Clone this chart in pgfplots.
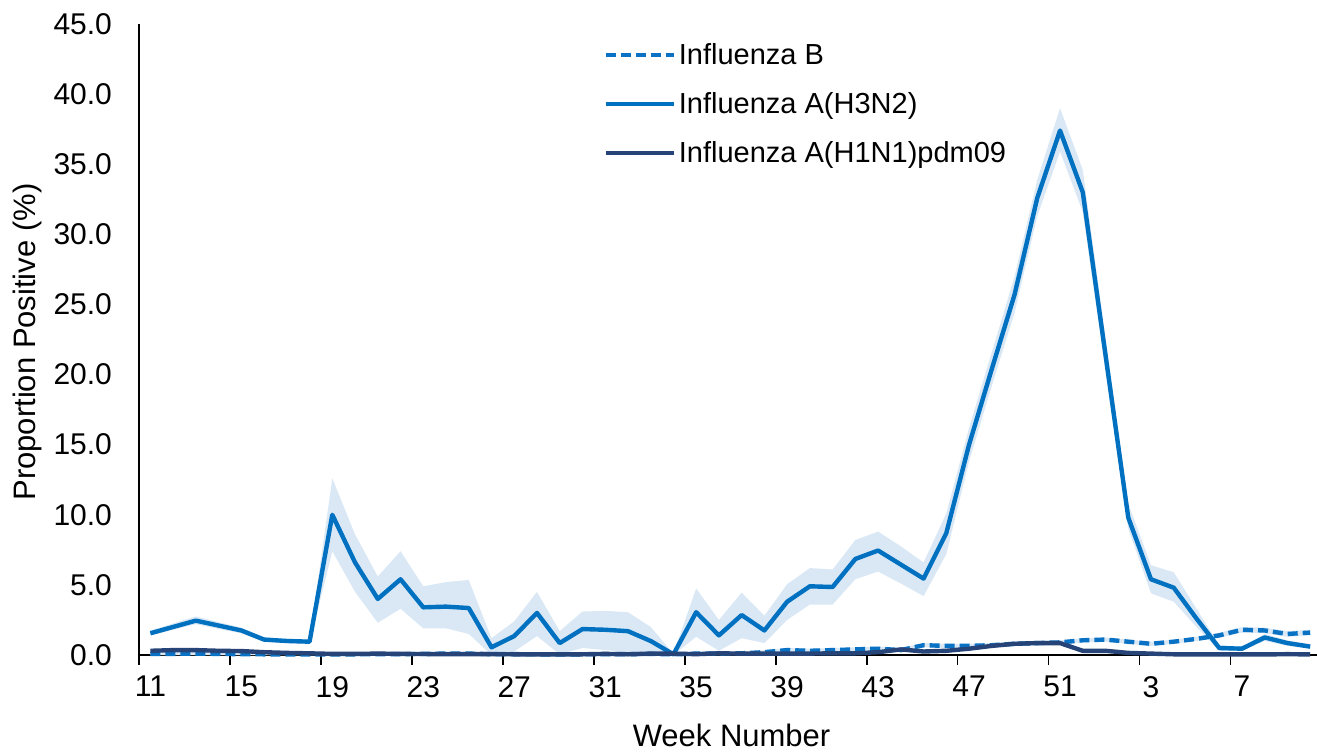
\documentclass[border=0pt]{standalone}
\usepackage{fontspec}
\setmainfont{Liberation Sans}
\usepackage{pgfplots}
\pgfplotsset{compat=1.18}
\usepackage{pgfplotstable}
\usepgfplotslibrary{fillbetween}

\definecolor{h3blue}{RGB}{0,112,192}
\definecolor{bblue}{RGB}{10,114,196}
\definecolor{h1navy}{RGB}{38,68,120}
\definecolor{band}{RGB}{218,232,245}

% i = 0 is week 11, i = 41 week 52, i = 42 week 1 ... i = 51 week 10
\pgfplotstableread{
i  h3    h3lo  h3hi  b     blo   bhi   h1
0  1.55  1.40  1.75  0.08  0.00  0.18  0.30
1  2.00  1.80  2.25  0.08  0.00  0.18  0.35
2  2.45  2.20  2.75  0.10  0.00  0.20  0.35
3  2.10  1.85  2.35  0.08  0.00  0.18  0.30
4  1.75  1.55  1.95  0.06  0.00  0.16  0.28
5  1.10  0.95  1.25  0.05  0.00  0.15  0.20
6  1.00  0.85  1.15  0.05  0.00  0.15  0.15
7  0.95  0.80  1.10  0.05  0.00  0.15  0.12
8  10.0  7.40  12.6  0.05  0.00  0.15  0.08
9  6.60  4.50  8.60  0.05  0.00  0.15  0.08
10 4.00  2.30  5.60  0.06  0.00  0.16  0.10
11 5.40  3.30  7.40  0.06  0.00  0.16  0.08
12 3.40  1.90  4.90  0.08  0.00  0.18  0.07
13 3.45  1.90  5.20  0.10  0.00  0.20  0.06
14 3.35  1.50  5.35  0.10  0.00  0.20  0.06
15 0.55  0.00  1.20  0.06  0.00  0.16  0.06
16 1.35  0.25  2.40  0.06  0.00  0.16  0.05
17 3.00  1.35  4.50  0.05  0.00  0.15  0.05
18 0.85  0.05  1.70  0.05  0.00  0.15  0.05
19 1.85  0.50  3.10  0.05  0.00  0.15  0.05
20 1.80  0.35  3.15  0.06  0.00  0.16  0.08
21 1.70  0.20  3.05  0.06  0.00  0.16  0.05
22 1.00  0.00  2.00  0.08  0.00  0.18  0.10
23 0.05  0.00  0.10  0.05  0.00  0.15  0.10
24 3.05  1.30  4.75  0.10  0.00  0.20  0.06
25 1.40  0.30  2.50  0.10  0.00  0.20  0.12
26 2.85  1.20  4.45  0.12  0.00  0.22  0.10
27 1.75  0.85  2.80  0.20  0.05  0.35  0.10
28 3.80  2.50  5.05  0.35  0.20  0.50  0.10
29 4.90  3.60  6.20  0.30  0.15  0.45  0.10
30 4.85  3.60  6.10  0.35  0.20  0.50  0.12
31 6.85  5.40  8.20  0.40  0.25  0.55  0.12
32 7.45  5.95  8.80  0.45  0.30  0.60  0.20
33 6.45  5.10  7.75  0.35  0.20  0.50  0.40
34 5.45  4.20  6.60  0.70  0.55  0.85  0.25
35 8.70  7.20  10.1  0.65  0.50  0.80  0.30
36 15.0  13.8  16.2  0.65  0.50  0.80  0.45
37 20.4  19.2  21.6  0.70  0.55  0.85  0.65
38 25.7  24.4  27.0  0.80  0.65  0.95  0.80
39 32.6  31.3  33.9  0.85  0.70  1.00  0.85
40 37.4  35.9  39.0  0.90  0.75  1.05  0.85
41 33.0  31.6  34.6  1.05  0.90  1.20  0.30
42 21.4  20.2  22.6  1.10  0.95  1.25  0.30
43 9.80  9.00  10.8  0.95  0.80  1.10  0.15
44 5.40  4.40  6.40  0.80  0.65  0.95  0.10
45 4.80  3.80  5.90  0.95  0.80  1.10  0.05
46 2.60  2.00  3.30  1.15  1.00  1.30  0.05
47 0.50  0.30  0.70  1.40  1.22  1.58  0.05
48 0.45  0.30  0.60  1.80  1.60  2.00  0.04
49 1.25  1.00  1.50  1.75  1.55  1.95  0.04
50 0.85  0.65  1.05  1.50  1.30  1.70  0.06
51 0.60  0.45  0.75  1.60  1.40  1.80  0.04
}\flu

\begin{document}
\begin{tikzpicture}
\begin{axis}[
    at={(0,0)}, anchor=south west,
    scale only axis,
    width=589pt, height=315.5pt,
    xmin=-0.5, xmax=51.3,
    ymin=0, ymax=45,
    clip=false,
    axis x line*=bottom,
    axis y line*=left,
    axis line style={black, line width=0.6pt},
    tick align=outside,
    major tick length=5pt,
    xtick={-0.5,3.5,...,47.5},
    xticklabels={11,15,19,23,27,31,35,39,43,47,51,3,7},
    xticklabel style={xshift=5.69pt, yshift=-2pt},
    x tick style={black, line width=0.8pt},
    ytick={0,5,...,45},
    y tick style={draw=none},
    /pgf/number format/assume math mode=true,
    yticklabel style={/pgf/number format/fixed,
        /pgf/number format/fixed zerofill,
        /pgf/number format/precision=1,
        xshift=-5pt},
    tick label style={font=\fontsize{15}{18}\selectfont},
    label style={font=\fontsize{15.5}{18}\selectfont},
    xlabel={Week Number},
    xlabel style={at={(axis description cs:0.503,-0.127)}, anchor=center},
    ylabel={Proportion Positive (\%)},
    ylabel style={at={(axis description cs:-0.095,0.496)}, anchor=center},
    legend style={at={(axis description cs:0.394,0.975)}, anchor=north west,
        draw=none, fill=none, inner sep=0pt, row sep=9.5pt,
        nodes={inner sep=1.5pt},
        font=\fontsize{14.5}{17}\selectfont},
    legend cell align=left,
    legend image code/.code={\draw[#1] (0pt,0pt) -- (34pt,0pt);},
    line join=round,
]
\addplot[draw=none, name path=h3hi, forget plot] table[x=i, y=h3hi] {\flu};
\addplot[draw=none, name path=h3lo, forget plot] table[x=i, y=h3lo] {\flu};
\addplot[band, forget plot] fill between[of=h3hi and h3lo];
\addplot[draw=none, name path=bhi, forget plot] table[x=i, y=bhi] {\flu};
\addplot[draw=none, name path=blo, forget plot] table[x=i, y=blo] {\flu};
\addplot[band, forget plot] fill between[of=bhi and blo];

\addplot[bblue, line width=2.2pt, dash pattern=on 5pt off 2.5pt] table[x=i, y=b] {\flu};
\addlegendentry{Influenza B}
\addplot[h3blue, line width=2.2pt] table[x=i, y=h3] {\flu};
\addlegendentry{Influenza A(H3N2)}
\addplot[h1navy, line width=2.2pt] table[x=i, y=h1] {\flu};
\addlegendentry{Influenza A(H1N1)pdm09}
\end{axis}
\pgfresetboundingbox
\useasboundingbox (-69.5pt,-48.5pt) rectangle (589pt,327.5pt);
\end{tikzpicture}
\end{document}
